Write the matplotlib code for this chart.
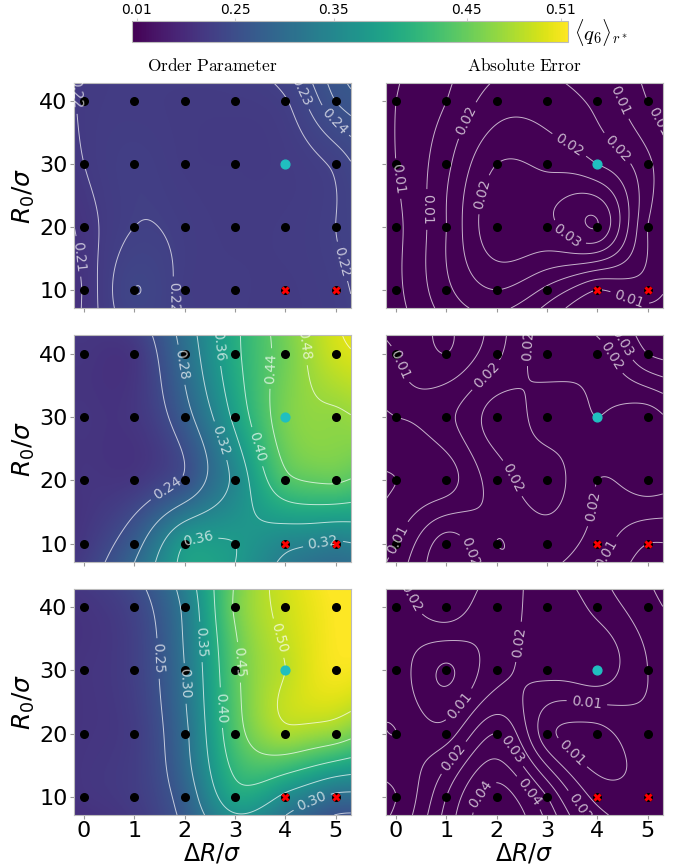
import numpy as np
import matplotlib
matplotlib.use('Agg')
import matplotlib.pyplot as plt
from matplotlib.colors import Normalize
from matplotlib.cm import ScalarMappable

# grid of the simulations
delta_r = [0, 1, 2, 3, 4, 5]
r_zero = [10, 20, 30, 40]

# rows = R0 (10, 20, 30, 40), columns = dR (0..5)
order_top = [[0.209, 0.232, 0.221, 0.219, 0.218, 0.222],
             [0.211, 0.224, 0.221, 0.218, 0.219, 0.224],
             [0.216, 0.223, 0.218, 0.217, 0.218, 0.226],
             [0.217, 0.219, 0.218, 0.218, 0.223, 0.248]]
error_top = [[0.007, 0.015, 0.020, 0.015, 0.008, 0.010],
             [0.007, 0.016, 0.027, 0.027, 0.032, 0.012],
             [0.008, 0.015, 0.024, 0.023, 0.020, 0.013],
             [0.008, 0.012, 0.018, 0.018, 0.015, 0.008]]

order_mid = [[0.215, 0.265, 0.360, 0.360, 0.330, 0.315],
             [0.210, 0.213, 0.245, 0.330, 0.430, 0.445],
             [0.210, 0.212, 0.265, 0.370, 0.460, 0.475],
             [0.210, 0.212, 0.290, 0.390, 0.455, 0.510]]
error_mid = [[0.012, 0.022, 0.016, 0.018, 0.014, 0.008],
             [0.008, 0.010, 0.018, 0.022, 0.016, 0.018],
             [0.012, 0.015, 0.022, 0.018, 0.020, 0.018],
             [0.012, 0.008, 0.015, 0.022, 0.022, 0.032]]

order_bot = [[0.210, 0.220, 0.270, 0.380, 0.340, 0.290],
             [0.210, 0.220, 0.290, 0.430, 0.490, 0.475],
             [0.210, 0.225, 0.300, 0.440, 0.500, 0.535],
             [0.210, 0.230, 0.310, 0.455, 0.510, 0.540]]
error_bot = [[0.012, 0.030, 0.045, 0.030, 0.010, 0.008],
             [0.018, 0.015, 0.030, 0.008, 0.004, 0.010],
             [0.015, 0.005, 0.016, 0.020, 0.022, 0.012],
             [0.015, 0.022, 0.014, 0.022, 0.016, 0.008]]

# special points
cyan_point = (4, 30)
red_points = [(4, 10), (5, 10)]

cbar_labels = ['0.01', '0.25', '0.35', '0.45', '0.51']
cbar_tick_frac = [0.011, 0.236, 0.463, 0.768, 0.983]

vmin, vmax = 0.15, 0.54
x_lim = (-0.2, 5.3)
y_lim = (7.1, 42.9)


def tps_surface(z, xg, yg):
    # thin plate spline through the grid values (y scaled by 1/10)
    px, py = np.meshgrid(np.array(delta_r, float), np.array(r_zero, float) / 10.0)
    px, py, pz = px.ravel(), py.ravel(), np.array(z, float).ravel()
    n = len(pz)

    def kern(r):
        with np.errstate(divide='ignore', invalid='ignore'):
            k = r ** 2 * np.log(r)
        return np.nan_to_num(k)

    d = np.hypot(px[:, None] - px[None, :], py[:, None] - py[None, :])
    P = np.column_stack([np.ones(n), px, py])
    A = np.zeros((n + 3, n + 3))
    A[:n, :n] = kern(d)
    A[:n, n:] = P
    A[n:, :n] = P.T
    w = np.linalg.solve(A, np.concatenate([pz, np.zeros(3)]))
    gx, gy = np.meshgrid(xg, yg / 10.0)
    r = np.hypot(gx[..., None] - px, gy[..., None] - py)
    return kern(r) @ w[:n] + w[n] + w[n + 1] * gx + w[n + 2] * gy


def draw_panel(ax, z, norm):
    xg = np.linspace(x_lim[0], x_lim[1], 300)
    yg = np.linspace(y_lim[0], y_lim[1], 300)
    zz = tps_surface(z, xg, yg)
    ax.imshow(zz, extent=[x_lim[0], x_lim[1], y_lim[0], y_lim[1]], origin='lower',
              aspect='auto', cmap='viridis', norm=norm, interpolation='bilinear')
    cs = ax.contour(xg, yg, zz, colors='white', linewidths=0.7, alpha=0.7)
    ax.clabel(cs, fmt='%.2f', fontsize=10, colors='white', inline=True)

    gx, gy = np.meshgrid(delta_r, r_zero)
    keep = ~((gx == cyan_point[0]) & (gy == cyan_point[1]))
    ax.scatter(gx[keep], gy[keep], s=30, c='black', zorder=3)
    ax.scatter([cyan_point[0]], [cyan_point[1]], s=40, c='#20bfc0', zorder=3)
    ax.scatter([p[0] for p in red_points], [p[1] for p in red_points], s=35,
               c='red', marker='X', linewidths=0, zorder=4)

    ax.set_xlim(x_lim)
    ax.set_ylim(y_lim)
    ax.set_xticks(delta_r)
    ax.set_yticks(r_zero)
    ax.tick_params(labelsize=16, length=3, color='#999999', pad=1.5)
    for s in ax.spines.values():
        s.set_color('#bbbbbb')


fig = plt.figure(figsize=(6.75, 8.66), dpi=100)
norm = Normalize(vmin=vmin, vmax=vmax)

lefts = [0.1096, 0.5719]
bottoms = [0.6443, 0.351, 0.0589]
heights = [0.2598, 0.262, 0.261]
data = [(order_top, error_top), (order_mid, error_mid), (order_bot, error_bot)]

for i in range(3):
    for j in range(2):
        ax = fig.add_axes([lefts[j], bottoms[i], 0.410, heights[i]])
        draw_panel(ax, data[i][j], norm)
        if i < 2:
            ax.set_xticklabels([])
        else:
            ax.set_xlabel(r'$\Delta R/\sigma$', fontsize=17, labelpad=0)
        if j == 1:
            ax.set_yticklabels([])
        else:
            ax.set_ylabel(r'$R_0/\sigma$', fontsize=18, labelpad=2)
        if i == 0:
            title = r'$\mathrm{Order\ Parameter}$' if j == 0 else r'$\mathrm{Absolute\ Error}$'
            ax.set_title(title, fontsize=12.5, pad=9, math_fontfamily='cm')

# colorbar on top
cax = fig.add_axes([0.1956, 0.9515, 0.646, 0.0242])
cb = fig.colorbar(ScalarMappable(norm=norm, cmap='viridis'), cax=cax, orientation='horizontal')
cax.xaxis.set_ticks_position('top')
cb.set_ticks([vmin + f * (vmax - vmin) for f in cbar_tick_frac])
cb.set_ticklabels(cbar_labels)
cax.tick_params(labelsize=10, length=2, color='#cccccc', pad=1)
cb.outline.set_edgecolor('#bbbbbb')
fig.text(0.850, 0.963, r'$\langle q_6 \rangle_{r^*}$', fontsize=15, va='center',
         math_fontfamily='cm')

fig.savefig('out.png', dpi=100)
